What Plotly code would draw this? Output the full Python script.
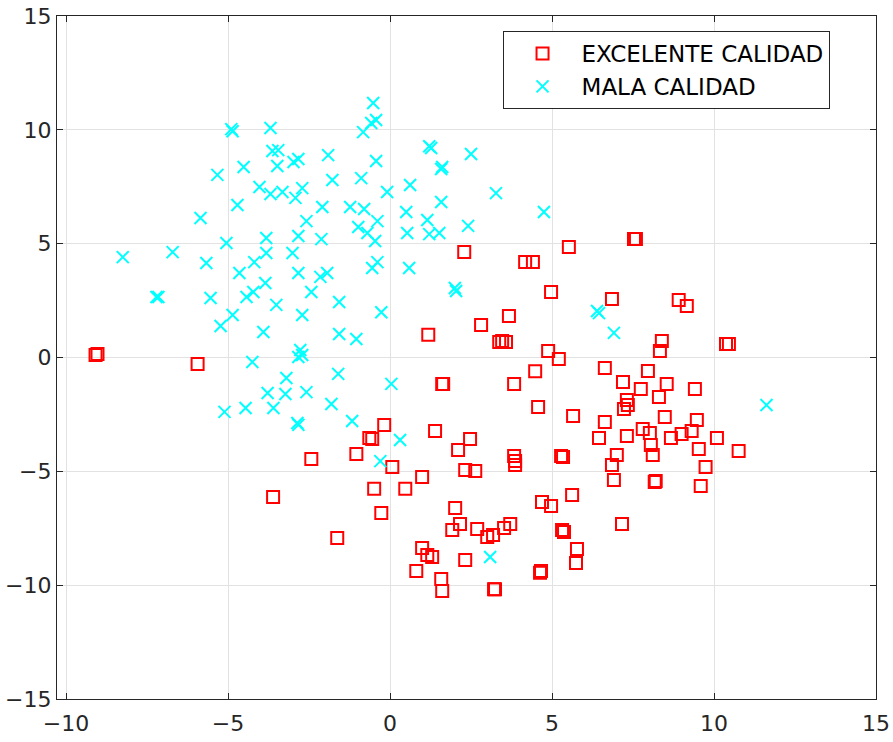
import plotly.graph_objects as go

# Muestras de vino: excelente calidad (cuadrados rojos)
exc_x = [-9.09, -9.03, -5.94, -3.61, -2.43, -1.63, -1.04, -0.64, -0.55, -0.18,
         -0.49, -0.27, 0.07, 0.47, 0.81, 0.99, 0.99, 1.15, 1.30, 1.18,
         1.39, 1.58, 1.61, 1.61, 1.64, 1.92, 2.01, 2.16, 2.10, 2.32,
         2.63, 2.32, 2.29, 2.47, 2.69, 2.81, 3.00, 3.18, 3.21, 3.24,
         3.37, 3.52, 3.71, 3.83, 3.83, 3.86, 3.86, 3.67, 3.46, 3.58,
         4.17, 4.41, 4.48, 4.57, 4.66, 4.63, 4.69, 4.97, 4.88, 4.97,
         5.21, 5.28, 5.34, 5.31, 5.37, 5.52, 5.65, 5.62, 5.77, 5.74,
         6.45, 6.63, 6.63, 6.85, 6.85, 6.91, 7.00, 7.16, 7.19, 7.22,
         7.34, 7.31, 7.31, 7.53, 7.59, 7.74, 7.80, 8.02, 7.96, 8.05,
         8.11, 8.17, 8.20, 8.30, 8.33, 8.39, 8.48, 8.54, 8.67, 8.91,
         9.16, 9.00, 9.31, 9.41, 9.47, 9.53, 9.59, 9.74, 10.09, 10.37,
         10.46, 10.76]
exc_y = [0.11, 0.15, -0.29, -6.13, -4.46, -7.93, -4.24, -3.54, -3.58, -2.96,
         -5.77, -6.83, -4.81, -5.77, -9.38, -5.25, -8.37, -8.67, -8.76, 1.00,
         -3.23, -9.73, -10.26, -1.16, -1.16, -7.58, -6.61, -7.31, -4.06, -4.94,
         -4.98, -8.89, 4.63, -3.58, -7.53, 1.43, -7.88, -7.80, -10.18, -10.18,
         0.68, -7.49, -7.31, -1.16, -4.33, -4.55, -4.72, 1.82, 0.72, 0.68,
         4.19, 4.19, -0.60, -2.17, -9.38, -9.46, -6.35, -6.52, 0.29, 2.88,
         -0.07, -4.33, -4.37, -7.58, -7.66, 4.85, -2.57, -6.04, -8.41, -9.03,
         -3.54, -0.46, -2.83, 2.57, -4.72, -5.38, -4.28, -7.31, -1.08, -2.26,
         -2.09, -1.87, -3.45, 5.20, 5.20, -1.38, -3.14, -3.32, -0.59, -3.84,
         -4.28, -5.47, -5.42, -1.73, 0.29, 0.72, -2.61, -1.16, -3.54, 2.53,
         2.26, -3.36, -3.23, -1.38, -2.74, -4.02, -5.64, -4.81, -3.54, 0.59,
         0.59, -4.11]

# Muestras de vino: mala calidad (aspas cian)
mala_x = [-8.25, -6.71, -7.21, -7.15, -5.85, -5.67, -5.54, -5.33, -5.23, -5.11,
          -5.05, -4.90, -4.86, -4.86, -4.71, -4.52, -4.65, -4.46, -4.43, -4.22,
          -4.25, -4.19, -4.03, -3.91, -3.85, -3.82, -3.82, -3.78, -3.69, -3.69,
          -3.63, -3.45, -3.48, -3.60, -3.51, -3.32, -3.20, -3.23, -2.98, -2.83,
          -2.92, -2.71, -3.01, -2.83, -2.83, -2.58, -2.71, -2.77, -2.71, -2.83,
          -2.86, -2.83, -2.58, -2.43, -2.15, -1.94, -2.12, -2.09, -1.91, -1.78,
          -1.81, -1.57, -1.57, -1.60, -1.23, -1.17, -1.04, -0.89, -0.80, -0.98,
          -0.70, -0.83, -0.58, -0.43, -0.52, -0.43, -0.39, -0.46, -0.55, -0.39,
          -0.27, -0.30, -0.09, 0.04, 0.31, 0.50, 0.53, 0.59, 0.62, 1.15,
          1.21, 1.27, 1.21, 1.52, 1.58, 1.61, 1.58, 2.00, 2.04, 2.41,
          2.50, 3.27, 3.09, 4.75, 6.39, 6.45, 6.91, 11.62]
mala_y = [4.41, 4.63, 2.66, 2.66, 6.13, 4.15, 2.61, 8.02, 1.38, -2.39,
          5.03, 10.03, 9.94, 1.87, 6.70, 8.37, 3.71, -2.22, 2.66, 2.88,
          -0.20, 4.19, 7.49, 1.12, 3.27, 5.25, 4.59, -1.56, 10.08, 7.18,
          9.07, 9.11, 8.41, -2.22, 2.31, 7.27, -0.90, -1.60, 8.59, 8.72,
          7.01, 7.44, 4.59, 5.34, 3.71, 5.99, 1.87, 0.33, 0.11, 0.02,
          -2.88, -2.96, -1.52, 2.88, 3.54, 3.71, 5.20, 6.61, 8.89, 7.80,
          -2.04, 2.44, 1.03, -0.72, 6.61, -2.79, 0.81, 7.88, 6.52, 5.73,
          5.47, 9.90, 10.30, 10.43, 11.18, 8.63, 5.99, 5.12, 3.93, 4.19,
          1.99, -4.55, 7.27, -1.16, -3.62, 6.39, 5.47, 3.93, 7.58, 6.04,
          9.28, 9.20, 5.42, 5.47, 6.83, 8.37, 8.28, 3.05, 2.92, 5.78,
          8.94, 7.22, -8.76, 6.39, 2.04, 1.95, 1.08, -2.09]

x_ticks = [-10, -5, 0, 5, 10, 15]
y_ticks = [-15, -10, -5, 0, 5, 10, 15]

FONT = "DejaVu Sans, sans-serif"
AX = "#262626"

fig = go.Figure()
fig.add_trace(go.Scatter(
    x=exc_x, y=exc_y, mode="markers", name="EXCELENTE CALIDAD",
    marker=dict(symbol="square-open", size=12, color="#ff0000",
                line=dict(width=2, color="#ff0000")),
))
fig.add_trace(go.Scatter(
    x=mala_x, y=mala_y, mode="markers", name="MALA CALIDAD",
    marker=dict(symbol="x-thin-open", size=12, color="#00ffff",
                line=dict(width=2, color="#00ffff")),
))

axis_common = dict(
    showline=True, linecolor=AX, linewidth=1.3, mirror="allticks",
    ticks="inside", ticklen=6, tickwidth=1, tickcolor=AX,
    showgrid=True, gridcolor="#e2e2e2", gridwidth=1,
    zeroline=False, automargin=False,
    tickfont=dict(family=FONT, size=22, color=AX),
)

fig.update_xaxes(range=[-10.28, 15], tickvals=x_ticks,
                 ticklabelstandoff=4, **axis_common)
fig.update_yaxes(range=[-15, 15], tickvals=y_ticks, **axis_common)

fig.update_layout(
    width=893, height=742,
    margin=dict(l=57, r=17, t=16, b=43),
    paper_bgcolor="white", plot_bgcolor="white",
    font=dict(family=FONT, color=AX),
    legend=dict(
        x=0.544, y=0.978, xanchor="left", yanchor="top",
        bgcolor="white", bordercolor=AX, borderwidth=1,
        font=dict(family=FONT, size=23, color="black"),
        itemwidth=68,
    ),
    showlegend=True,
)

fig.write_html("out.html")
